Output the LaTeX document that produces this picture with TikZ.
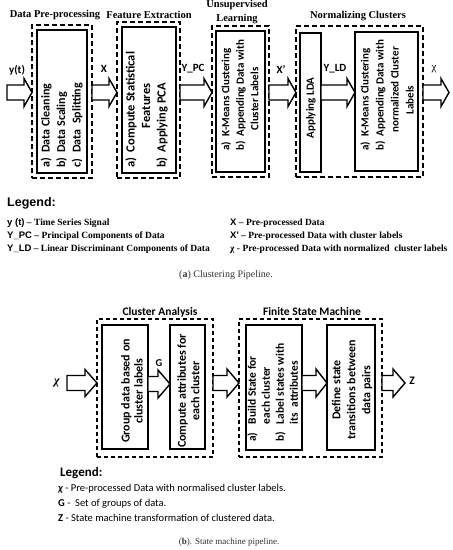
\documentclass[tikz,border=0pt]{standalone}
\usepackage{fontspec}
\setmainfont{Liberation Serif}
\newfontfamily\calf{Carlito}
\newfontfamily\arf{Liberation Sans}
\usetikzlibrary{calc}
\newcommand\rbox[6]{\node[#2, inner sep=0pt, outer sep=0pt, anchor=north west, minimum width={#5-#3}, minimum height={#6-#4}] (#1) at (#3,#4) {};}
\newcommand\barrow[6]{%
  \draw[blockarrow] let \p1=(#1), \p2=(#2), \p3=(0,#3) in
  (\x1,{\y3+#4pt}) -- ({\x2-#6pt},{\y3+#4pt}) -- ({\x2-#6pt},{\y3+#5pt}) -- (\x2,\y3)
  -- ({\x2-#6pt},{\y3-#5pt}) -- ({\x2-#6pt},{\y3-#4pt}) -- (\x1,{\y3-#4pt}) -- cycle;}
\begin{document}
\begin{tikzpicture}[x=1pt,y=-1pt,
  solidbox/.style={draw, line width=1.8pt},
  dashbox/.style={draw, line width=1.8pt, dash pattern=on 5pt off 3pt},
  dashboxb/.style={draw, line width=1.3pt, dash pattern=on 4pt off 3pt},
  blockarrow/.style={draw, line width=1.4pt, fill=white, line join=miter},
  ttl/.style={font=\fontsize{10.5}{12}\selectfont\bfseries, inner sep=0pt},
  ttlb/.style={font=\calf\fontsize{11.5}{13}\selectfont\bfseries, inner sep=0pt},
  lab/.style={font=\calf\fontsize{11}{12}\selectfont\bfseries, inner sep=0pt},
  intext/.style={rotate=90, anchor=west, inner sep=0pt},
  leg/.style={anchor=west, inner sep=0pt, font=\fontsize{9.5}{11}\selectfont\bfseries},
  legb/.style={anchor=west, inner sep=0pt, font=\calf\fontsize{10.5}{12}\selectfont},
  captxt/.style={inner sep=0pt, text=black!80}
]
\useasboundingbox (0,0) rectangle (453,550);

% ---------- top pipeline ----------
\node[ttl] (t1) at (55,15) {Data Pre-processing};
\node[ttl] (t2) at (149,15) {Feature Extraction};
\node[ttl, align=center, font=\fontsize{10.5}{13.5}\selectfont\bfseries] (t3) at (237,12) {Unsupervised\\Learning};
\node[ttl] (t4) at (358,16) {Normalizing Clusters};

\rbox{d1}{dashbox}{32}{25}{92}{178}
\rbox{s1}{solidbox}{37}{30}{87}{173}
\rbox{d2}{dashbox}{117}{22}{180}{178}
\rbox{s2}{solidbox}{122}{27}{176}{173}
\rbox{d3}{dashbox}{212}{26}{269}{177}
\rbox{s3}{solidbox}{216}{31}{265}{172}
\rbox{d4}{dashbox}{296}{26}{423}{177}
\rbox{s4}{solidbox}{300}{33}{321}{172}
\rbox{s5}{solidbox}{355}{32}{418}{171}

\node[intext, font=\calf\fontsize{12}{15.5}\selectfont\bfseries] (x1) at (62,168)
 {\begin{tabular}{@{}l@{\hspace{5pt}}l@{}}a) & Data Cleaning\\ b) & Data Scaling\\ c) & Data\ \ Splitting\end{tabular}};
\node[intext, font=\calf\fontsize{12.5}{15.5}\selectfont\bfseries] (x2) at (147,168)
 {\begin{tabular}{@{}l@{\hspace{5pt}}l@{}}a) & Compute Statistical\\ & \hspace{24pt}Features\\ b) & Applying PCA\end{tabular}};
\node[intext, font=\calf\fontsize{11}{14.5}\selectfont\bfseries] (x3) at (241,151)
 {\begin{tabular}{@{}l@{\hspace{5pt}}l@{}}a) & K-Means Clustering\\ b) & Appending Data with\\ & \hspace{6pt}Cluster Labels\end{tabular}};
\node[intext, anchor=center, font=\calf\fontsize{11}{14.5}\selectfont\bfseries] (x4) at (311,108) {Applying LDA};
\node[intext, font=\calf\fontsize{11}{15}\selectfont\bfseries] (x5) at (388,151)
 {\begin{tabular}{@{}l@{\hspace{5pt}}l@{}}a) & K-Means Clustering\\ b) & Appending Data with\\ & \hspace{4pt}normalized Cluster\\ & \hspace{22pt}Labels\end{tabular}};

\coordinate (in1) at (7,92.5);
\coordinate (out1) at (449,92.5);
\barrow{in1}{d1.west}{92.5}{7.5}{14}{8}
\barrow{d1.east}{d2.west}{92.5}{7.5}{14}{8}
\barrow{d2.east}{d3.west}{92.5}{7.5}{14}{8}
\barrow{d3.east}{d4.west}{92.5}{7.5}{14}{8}
\barrow{s4.east}{s5.west}{92.5}{7.5}{14}{8}
\barrow{d4.east}{out1}{92.5}{7.5}{14}{8}

\node[lab] (ly) at (17,70) {y(t)};
\node[lab] (lx) at (104,69) {X};
\node[lab] (lpc) at (193,69) {Y\_PC};
\node[lab] (lxp) at (281,69) {X’};
\node[lab] (lld) at (335,69) {Y\_LD};
\node[inner sep=0pt, font=\fontsize{11}{12}\selectfont] (lchi) at (434,69) {χ};

% ---------- legend (a) ----------
\node[anchor=west, inner sep=0pt, font=\arf\fontsize{12.5}{14}\selectfont\bfseries] (lega) at (7,203) {Legend:};
\node[leg] (la1) at (7,223) {{\arf y (t)} – Time Series Signal};
\node[leg] (la2) at (7,236) {{\arf Y\_PC} – Principal Components of Data};
\node[leg] (la3) at (7,249) {{\arf Y\_LD} – Linear Discriminant Components of Data};
\node[leg] (la4) at (230,223) {{\arf X} – Pre-processed Data};
\node[leg] (la5) at (230,236) {{\arf X'} – Pre-processed Data with cluster labels};
\node[leg] (la6) at (230,249) {χ - Pre-processed Data with normalized\ \ cluster labels};
\node[captxt, font=\fontsize{10}{12}\selectfont] (capa) at (226,275) {(\textbf{a}) Clustering Pipeline.};

% ---------- bottom pipeline ----------
\node[ttlb] (tb1) at (160,312) {Cluster Analysis};
\node[ttlb] (tb2) at (312,312) {Finite State Machine};

\rbox{da}{dashboxb}{97}{319}{213}{457}
\rbox{sg}{solidbox}{102}{325}{148}{449}
\rbox{sc}{solidbox}{170}{325}{205}{449}
\rbox{db}{dashboxb}{239}{319}{382}{457}
\rbox{sb}{solidbox}{246}{325}{302}{450}
\rbox{sd}{solidbox}{327}{325}{375}{450}

\node[intext, anchor=center, align=center, font=\calf\fontsize{12}{13}\selectfont\bfseries] (xg) at (132,391) {Group data based on\\cluster labels};
\node[intext, anchor=center, align=center, font=\calf\fontsize{12}{13.5}\selectfont\bfseries] (xc) at (188.5,391) {Compute attributes for\\each cluster};
\node[intext, font=\calf\fontsize{11.5}{14}\selectfont\bfseries] (xb) at (274,442)
 {\begin{tabular}{@{}l@{\hspace{8pt}}l@{}}a) & Build State for\\ & each cluster\\ b) & Label states with\\ & its\ \ attributes\end{tabular}};
\node[intext, anchor=center, align=center, font=\calf\fontsize{12}{15}\selectfont\bfseries] (xd) at (352,390) {Define state\\transitions between\\data pairs};

\coordinate (in2) at (67,383);
\coordinate (out2) at (405,383);
\barrow{in2}{da.west}{383}{7.5}{13.5}{12}
\barrow{sg.east}{sc.west}{384}{7.5}{14}{12}
\barrow{da.east}{db.west}{383}{7.5}{14}{12}
\barrow{sb.east}{sd.west}{383}{7.5}{14}{11}
\barrow{db.east}{out2}{383}{7.5}{14}{12}

\node[inner sep=0pt, font=\fontsize{12}{13}\selectfont\bfseries\itshape] (lchib) at (57,383) {χ};
\node[lab, font=\calf\fontsize{10.5}{12}\selectfont\bfseries] (lg) at (159,363) {G};
\node[lab, font=\calf\fontsize{11.5}{12}\selectfont\bfseries] (lz) at (412,381) {Z};

% ---------- legend (b) ----------
\node[anchor=west, inner sep=0pt, font=\calf\fontsize{13}{14}\selectfont\bfseries] (legb) at (60,473) {Legend:};
\node[legb] (lb1) at (58,489) {{\bfseries\itshape χ} - Pre-processed Data with normalised cluster labels.};
\node[legb] (lb2) at (58,504) {{\bfseries G} -\ \ Set of groups of data.};
\node[legb] (lb3) at (58,518) {{\bfseries Z} - State machine transformation of clustered data.};
\node[captxt, font=\fontsize{9}{11}\selectfont] (capb) at (229,542) {(\textbf{b}). State machine pipeline.};
\end{tikzpicture}
\end{document}
